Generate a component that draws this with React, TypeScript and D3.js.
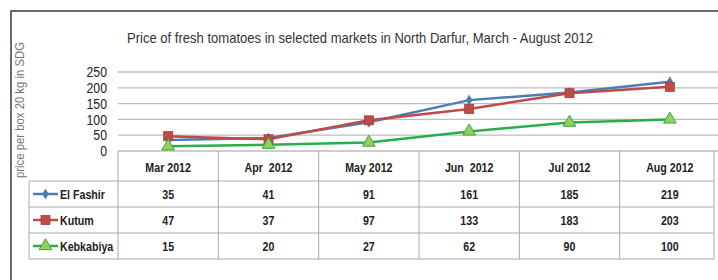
import React from "react";
import * as d3 from "d3";

// data
const months = ["Mar 2012", "Apr  2012", "May 2012", "Jun  2012", "Jul 2012", "Aug 2012"];
const elFashir = [35, 41, 91, 161, 185, 219];
const kutum = [47, 37, 97, 133, 183, 203];
const kebkabiya = [15, 20, 27, 62, 90, 100];
const yTicks = [0, 50, 100, 150, 200, 250];

const series = [
  { name: "El Fashir", values: elFashir, color: "#4A7EBB", marker: "diamond" },
  { name: "Kutum", values: kutum, color: "#BE4B48", marker: "square" },
  { name: "Kebkabiya", values: kebkabiya, color: "#2BAE4A", marker: "triangle" },
];

const W = 718;
const H = 280;
const font = "'Liberation Sans', sans-serif";
// Calibri-like narrow look: squeeze Liberation Sans horizontally
const squeeze = 0.82;

const Narrow = ({ x, y, anchor = "start", size = 12.5, bold = true, children }: any) => (
  <g transform={`translate(${x},${y}) scale(${squeeze},1)`}>
    <text dy="0.35em" textAnchor={anchor} fontFamily={font} fontWeight={bold ? "bold" : "normal"}
      fontSize={size} fill="#222" xmlSpace="preserve">
      {children}
    </text>
  </g>
);

const Marker = ({ type, x, y, color }: { type: string; x: number; y: number; color: string }) => {
  if (type === "square") {
    return <rect x={x - 4.5} y={y - 4.5} width={9} height={9} fill={color} stroke="#A33C3A" strokeWidth={0.8} />;
  }
  if (type === "triangle") {
    const p = d3.symbol(d3.symbolTriangle, 70)();
    return <path d={p!} transform={`translate(${x},${y})`} fill="#9BCB59" stroke={color} strokeWidth={1} />;
  }
  const p = d3.symbol(d3.symbolDiamond, 30)();
  return <path d={p!} transform={`translate(${x},${y})`} fill={color} stroke={color} strokeWidth={0.5} />;
};

export default function App() {
  const x = d3.scaleBand().domain(months).range([118, 720]);
  const y = d3.scaleLinear().domain([0, 250]).range([151, 72]);
  const cx = (i: number) => x(months[i])! + x.bandwidth() / 2;
  const line = d3
    .line<number>()
    .x((_, i) => cx(i))
    .y((d) => y(d));

  const tableTop = y(0);
  const headerBottom = 181;
  const rowH = 26;
  const tableBottom = headerBottom + rowH * series.length;
  const tableRight = 714;
  const legendLeft = 29;

  return (
    <svg width={W} height={H} style={{ position: "absolute", left: 0, top: 0, background: "#fff" }}>
      {/* outer chart border */}
      <path d={`M11,${H} V11 H${W}`} fill="none" stroke="#3a3a3a" strokeWidth={1.5} />

      <text x={360} y={43} textAnchor="middle" fontFamily={font} fontSize={14.5} fill="#333"
        textLength={466} lengthAdjust="spacingAndGlyphs">
        Price of fresh tomatoes in selected markets in North Darfur, March - August 2012
      </text>

      <text transform="translate(24,110) rotate(-90)" textAnchor="middle" fontFamily={font} fontSize={12}
        fill="#777" textLength={136} lengthAdjust="spacingAndGlyphs">
        price per box 20 kg in SDG
      </text>

      {/* gridlines */}
      {yTicks.map((t) => (
        <line key={t} x1={118} x2={W} y1={y(t)} y2={y(t)} stroke="#BDBDBD" strokeWidth={1.3} />
      ))}
      {yTicks.map((t) => (
        <Narrow key={"l" + t} x={107} y={y(t)} anchor="end" size={15} bold={false}>
          {t}
        </Narrow>
      ))}

      {/* data table */}
      <g stroke="#A8A8A8" strokeWidth={1} fill="none">
        <line x1={legendLeft} x2={tableRight} y1={headerBottom} y2={headerBottom} />
        {series.map((s, i) => (
          <line key={s.name} x1={legendLeft} x2={tableRight} y1={headerBottom + rowH * (i + 1)} y2={headerBottom + rowH * (i + 1)} />
        ))}
        <line x1={legendLeft} x2={legendLeft} y1={headerBottom} y2={tableBottom} />
        {months.map((m) => (
          <line key={m} x1={x(m)!} x2={x(m)!} y1={tableTop} y2={tableBottom} />
        ))}
        <line x1={tableRight} x2={tableRight} y1={tableTop} y2={tableBottom} />
      </g>
      {months.map((m, i) => (
        <Narrow key={m} x={cx(i)} y={(tableTop + headerBottom) / 2 + 1} anchor="middle" size={13}>
          {m}
        </Narrow>
      ))}
      {series.map((s, i) => {
        const cy = headerBottom + rowH * i + rowH / 2;
        return (
          <g key={s.name}>
            <line x1={33} x2={58} y1={cy} y2={cy} stroke={s.color} strokeWidth={2.5} />
            <Marker type={s.marker} x={45.5} y={cy} color={s.color} />
            <Narrow x={60} y={cy} size={13}>
              {s.name}
            </Narrow>
            {s.values.map((v, j) => (
              <Narrow key={j} x={cx(j)} y={cy} anchor="middle" size={13}>
                {v}
              </Narrow>
            ))}
          </g>
        );
      })}

      {/* lines and markers */}
      {series.map((s) => (
        <g key={s.name}>
          <path d={line(s.values)!} fill="none" stroke={s.color} strokeWidth={2.5} />
          {s.values.map((v, j) => (
            <Marker key={j} type={s.marker} x={cx(j)} y={y(v)} color={s.color} />
          ))}
        </g>
      ))}
    </svg>
  );
}
